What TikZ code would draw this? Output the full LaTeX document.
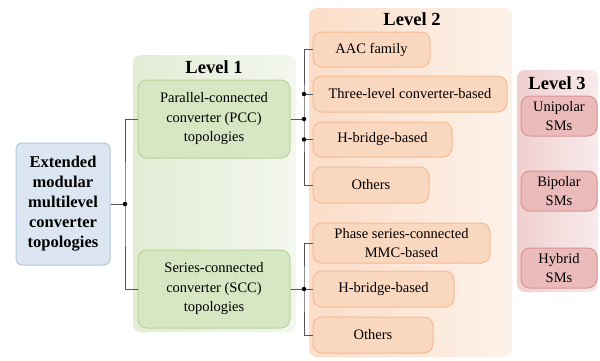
\documentclass[tikz,border=0pt]{standalone}
\usepackage{fontspec}
\setmainfont{Liberation Serif}
\definecolor{lvgdraw}{HTML}{B9D39A}
\definecolor{lvgfill}{HTML}{D8E7C3}
\definecolor{lvodraw}{HTML}{F6BC90}
\definecolor{lvofill}{HTML}{FAD7BF}
\definecolor{lvrdraw}{HTML}{DA9595}
\definecolor{lvrfill}{HTML}{EBBABA}
\definecolor{rootfill}{HTML}{DCE6F2}
\definecolor{rootdraw}{HTML}{B3C6DE}
\definecolor{linegray}{HTML}{555555}
\definecolor{pgl}{HTML}{E3ECD5}
\definecolor{pgr}{HTML}{F3F7EE}
\definecolor{pol}{HTML}{FBDDC8}
\definecolor{por}{HTML}{FDF2EA}
\definecolor{prl}{HTML}{F0CFCF}
\definecolor{prr}{HTML}{F8EBEB}
\begin{document}
\begin{tikzpicture}[x=1pt,y=-1pt,
  txt/.style={font=\fontsize{14.5}{19.5}\selectfont, align=center, inner sep=0pt},
  panel/.style={rounded corners=8pt, draw=none},
  lv1box/.style={txt, rounded corners=9pt, draw=lvgdraw, fill=lvgfill, line width=1pt},
  lv2box/.style={txt, rounded corners=9pt, draw=lvodraw, fill=lvofill, line width=1pt},
  lv3box/.style={txt, rounded corners=9pt, draw=lvrdraw, fill=lvrfill, line width=1pt},
  ttl/.style={font=\bfseries\fontsize{18.5}{20}\selectfont, inner sep=0pt},
  conn/.style={draw=linegray, line width=0.9pt},
  jdot/.style={circle, fill=black, inner sep=0pt, minimum size=4.5pt}
]
\useasboundingbox (0,0) rectangle (600,360);
\fill[white] (0,0) rectangle (600,360);
% panels
\node[panel, left color=pgl, right color=pgr, minimum width=163pt, minimum height=277pt] (p1) at (214.5,193.5) {};
\node[panel, left color=pol, right color=por, minimum width=203pt, minimum height=349pt] (p2) at (410.5,182.5) {};
\node[panel, left color=prl, right color=prr, minimum width=81pt, minimum height=222pt] (p3) at (557.5,181) {};
\node[ttl] (t1) at (214,67) {Level 1};
\node[ttl] (t2) at (412,19) {Level 2};
\node[ttl] (t3) at (557,83) {Level 3};
% root
\node[txt, font=\bfseries\fontsize{16.5}{20}\selectfont, rounded corners=6pt, draw=rootdraw, fill=rootfill, line width=1pt, minimum width=94pt, minimum height=122pt] (root) at (63,204) {Extended\\modular\\multilevel\\converter\\topologies};
% level 1
\node[lv1box, minimum width=152pt, minimum height=78pt] (pcc) at (214,119) {Parallel-connected\\converter (PCC)\\topologies};
\node[lv1box, minimum width=152pt, minimum height=78pt] (scc) at (214,289) {Series-connected\\converter (SCC)\\topologies};
% level 2
\node[lv2box, minimum width=117pt, minimum height=35pt] (aac) at (371.5,49.5) {AAC family};
\node[lv2box, minimum width=194pt, minimum height=36pt] (three) at (410,94) {Three-level converter-based};
\node[lv2box, minimum width=139pt, minimum height=35pt] (hba) at (382.5,139.5) {H-bridge-based};
\node[lv2box, minimum width=116pt, minimum height=36pt] (otha) at (371,185) {Others};
\node[lv2box, minimum width=177pt, minimum height=40pt] (phase) at (401.5,243) {Phase series-connected\\MMC-based};
\node[lv2box, minimum width=141pt, minimum height=36pt] (hbb) at (383.5,289) {H-bridge-based};
\node[lv2box, minimum width=120pt, minimum height=36pt] (othb) at (373,335) {Others};
% level 3
\node[lv3box, minimum width=76pt, minimum height=40pt] (uni) at (559,116) {Unipolar\\SMs};
\node[lv3box, minimum width=76pt, minimum height=40pt] (bip) at (559,191) {Bipolar\\SMs};
\node[lv3box, minimum width=76pt, minimum height=40pt] (hyb) at (559,268) {Hybrid\\SMs};
% connectors
\coordinate (j0) at (125,204);
\coordinate (j1) at (304,119);
\coordinate (j2) at (304,289);
\draw[conn] (root.east) -- (j0);
\draw[conn] (pcc.west) -| (j0) |- (scc.west);
\draw[conn] (pcc.east) -- (j1);
\draw[conn] (aac.west) -| (j1) |- (otha.west);
\draw[conn] (three.west) -- (three.west -| j1);
\draw[conn] (hba.west) -- (hba.west -| j1);
\draw[conn] (scc.east) -- (hbb.west);
\draw[conn] (phase.west) -| (j2) |- (othb.west);
\node[jdot] (d0) at (j0) {};
\node[jdot] (d1) at (j1) {};
\node[jdot] (d2) at (j2) {};
\node[jdot] (d3) at (three.west -| j1) {};
\node[jdot] (d4) at (hba.west -| j1) {};
\end{tikzpicture}
\end{document}
